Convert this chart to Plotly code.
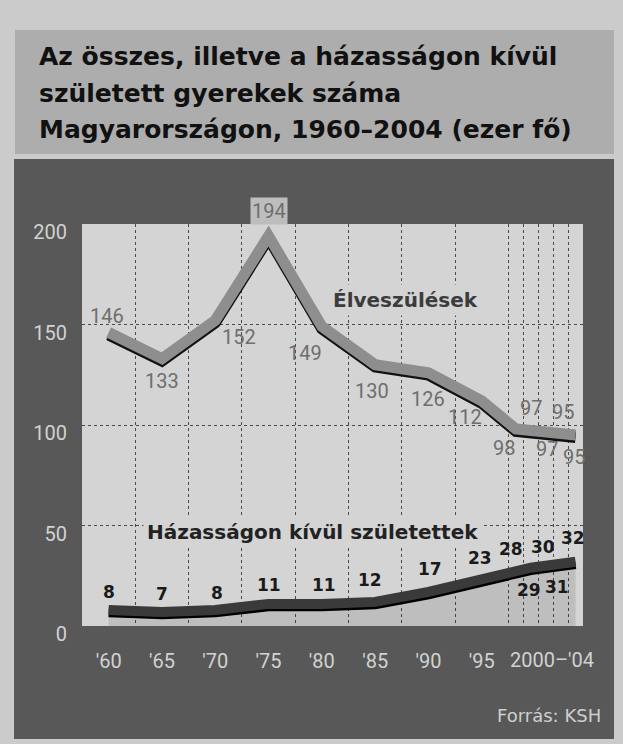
import plotly.graph_objects as go

# ---------------- data ----------------
years = [1960, 1965, 1970, 1975, 1980, 1985, 1990, 1995, 2000, 2001, 2002, 2003, 2004]
elveszulesek = [146, 133, 152, 194, 149, 130, 126, 112, 98, 97, 97, 95, 95]
hazassagon_kivul = [8, 7, 8, 11, 11, 12, 17, 23, 28, 29, 30, 31, 32]
tick_years = [1960, 1965, 1970, 1975, 1980, 1985, 1990, 1995]
tick_labels = ["'60", "'65", "'70", "'75", "'80", "'85", "'90", "'95"]
y_ticks = [0, 50, 100, 150, 200]

title_lines = ["Az összes, illetve a házasságon kívül",
               "született gyerekek száma",
               "Magyarországon, 1960–2004 (ezer fő)"]

# ---------------- layout geometry ----------------
W, H = 623, 744
L, R, T, B = 82, 40, 224, 118
PW, PH = W - L - R, H - T - B

# broken x scale: 5-year bands for 1960-1995, narrow yearly bands for 2000-2004
NARROW = 0.28
def xpos(year):
    if year < 2000:
        return (year - 1960) / 5 + 0.5
    return 8 + (year - 2000 + 0.5) * NARROW
X_MAX = 8 + 5 * NARROW

def band_edge(year):
    return xpos(year) + (0.5 if year < 2000 else NARROW / 2)

xs = [xpos(y) for y in years]
grid_x = [band_edge(y) for y in years[:-1]]

def px(x):  # pixel -> paper x
    return (x - L) / PW
def py(y):  # pixel -> paper y
    return (H - B - y) / PH

FONT = "Roboto"
BOLD = "DejaVu Sans"
PAGE_BG = "#cbcbcb"
TITLE_BG = "#adadad"
PANEL_BG = "#585858"
PLOT_BG = "#d4d4d4"
SH = 1.2  # shadow shift in data units

fig = go.Figure()

# shadows (drawn on shifted overlay axis, slightly lower)
fig.add_trace(go.Scatter(x=xs, y=elveszulesek, mode="lines", yaxis="y2",
                         line=dict(color="#111111", width=11), hoverinfo="skip"))
fig.add_trace(go.Scatter(x=xs, y=hazassagon_kivul, mode="lines", yaxis="y2",
                         line=dict(color="#000000", width=10), hoverinfo="skip"))
# main lines
fig.add_trace(go.Scatter(x=xs, y=hazassagon_kivul, mode="lines", yaxis="y3",
                         fill="tozeroy", fillcolor="rgba(0,0,0,0.10)",
                         line=dict(color="#3a3a3a", width=10), name="Házasságon kívül születettek"))
fig.add_trace(go.Scatter(x=xs, y=elveszulesek, mode="lines", yaxis="y3",
                         line=dict(color="#8e8e8e", width=11), name="Élveszülések"))

shapes = [
    dict(type="rect", xref="paper", yref="paper", layer="below",
         x0=px(15), x1=px(614), y0=py(30), y1=py(154), fillcolor=TITLE_BG, line_width=0),
    dict(type="rect", xref="paper", yref="paper", layer="below",
         x0=px(14), x1=px(614), y0=py(159), y1=py(739), fillcolor=PANEL_BG, line_width=0),
    dict(type="rect", xref="paper", yref="paper", layer="below",
         x0=0, x1=1, y0=0, y1=1, fillcolor=PLOT_BG, line_width=0),
]

ann = []
for i, line in enumerate(title_lines):
    ann.append(dict(text=line, xref="paper", yref="paper", x=px(37), y=py(57 + 36 * i),
                    xanchor="left", yanchor="middle", showarrow=False,
                    font=dict(family=BOLD, size=25, color="#111111", weight="bold")))

upper_off = [(-2, 17), (0, -22), (24, -17), (0, 25), (-17, -26), (-3, -26), (0, -26),
             (-17, -16), (-12, -19), (0, 23), (1, -18), (2, 23), (-2, -22)]
lower_off = [(0, 18), (0, 18), (2, 17), (0, 19), (2, 19), (-5, 22), (2, 23), (-2, 22),
             (-5, 21), (-2, -22), (-3, 19), (-4, -23), (-3, 24)]

for x, v, (dx, dy) in zip(xs, elveszulesek, upper_off):
    ann.append(dict(text=str(v), x=x, y=v, xref="x", yref="y", xshift=dx, yshift=dy,
                    xanchor="center", yanchor="middle",
                    showarrow=False, font=dict(family=FONT, size=20, color="#6e6e6e")))
for x, v, (dx, dy) in zip(xs, hazassagon_kivul, lower_off):
    ann.append(dict(text=str(v), x=x, y=v, xref="x", yref="y", xshift=dx, yshift=dy,
                    xanchor="center", yanchor="middle",
                    showarrow=False, font=dict(family=BOLD, size=17, color="#1a1a1a", weight="bold")))
# halo on the peak label
ann[len(title_lines) + 3].update(bgcolor="#bdbdbd", borderpad=1)

def label(text, x, y, font, xanchor="center", **kw):
    return dict(text=text, xref="paper", yref="paper", x=px(x), y=py(y),
                xanchor=xanchor, yanchor="middle", showarrow=False, font=font, **kw)

ann.append(label("Élveszülések", 405, 300,
                 dict(family=BOLD, size=20, color="#3c3c3c", weight="bold"),
                 bgcolor=PLOT_BG, borderpad=3))
ann.append(label("Házasságon kívül születettek", 312, 532,
                 dict(family=BOLD, size=20, color="#222222", weight="bold"),
                 bgcolor=PLOT_BG, borderpad=3))
ann.append(label("2000–'04", 552, 660, dict(family=FONT, size=20, color="#d2d2d2")))
ann.append(label("Forrás: KSH", 603, 715, dict(family="DejaVu Sans", size=18, color="#cfcfcf"),
                 xanchor="right"))

fig.update_layout(
    width=W, height=H, margin=dict(l=L, r=R, t=T, b=B),
    paper_bgcolor=PAGE_BG, plot_bgcolor="rgba(0,0,0,0)",
    showlegend=False, shapes=shapes, annotations=ann,
    xaxis=dict(range=[0, X_MAX], tickmode="array", tickvals=[xpos(y) for y in tick_years],
               ticktext=tick_labels, ticks="", showgrid=False, zeroline=False,
               showline=False, ticklabelstandoff=21,
               tickfont=dict(family=FONT, size=20, color="#d2d2d2"),
               minor=dict(tickmode="array", tickvals=grid_x, showgrid=True,
                          gridcolor="#4a4a4a", griddash="dot", gridwidth=1, ticklen=0)),
    yaxis=dict(range=[0, 200], tickmode="array", tickvals=y_ticks, ticks="",
               showgrid=True, gridcolor="#4a4a4a", griddash="dot", gridwidth=1,
               zeroline=False, showline=False, ticklabelstandoff=14, ticklabelshift=8,
               tickfont=dict(family=FONT, size=20, color="#d2d2d2")),
    yaxis2=dict(overlaying="y", range=[SH, 200 + SH], visible=False),
    yaxis3=dict(overlaying="y", range=[0, 200], visible=False),
)

post = ("document.body.style.margin='0';document.body.style.overflow='hidden';"
        "document.body.style.background='" + PAGE_BG + "';"
        "Plotly.relayout(document.getElementById('{plot_id}'),{width:623,height:744});")
fig.write_html("out.html", post_script=post, config={"displayModeBar": False})
